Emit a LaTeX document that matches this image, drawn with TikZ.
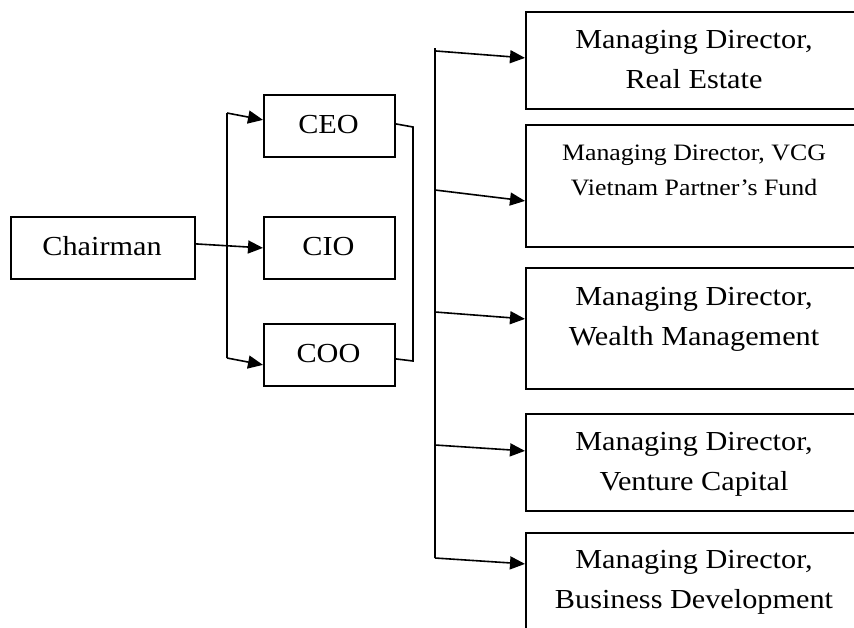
\documentclass[tikz,border=0pt]{standalone}
\usepackage{fontspec}
\setmainfont{Liberation Serif}[FakeStretch=1.1]
\usetikzlibrary{arrows.meta}
\begin{document}
\begin{tikzpicture}[x=1pt,y=-1pt,
  box/.style={draw, line width=1.8pt, inner sep=0pt, anchor=north west},
  lbl/.style={anchor=base, align=center, inner sep=0pt, font=\fontsize{27.5}{40}\selectfont},
  smalllbl/.style={lbl, font=\fontsize{23.5}{35}\selectfont},
  conn/.style={line width=1.6pt},
  arr/.style={conn, -{Triangle[length=15pt,width=13pt]}}]
\clip (0,0) rectangle (854,627);
\fill[white] (0,0) rectangle (854,627);
% boxes
\node[box, minimum width=184pt, minimum height=62pt] (ch) at (10,216) {};
\node[box, minimum width=131pt, minimum height=62pt] (ceo) at (263,94) {};
\node[box, minimum width=131pt, minimum height=62pt] (cio) at (263,216) {};
\node[box, minimum width=131pt, minimum height=62pt] (coo) at (263,323) {};
\node[box, minimum width=339pt, minimum height=97pt] (b1) at (525,11) {};
\node[box, minimum width=339pt, minimum height=122pt] (b2) at (525,124) {};
\node[box, minimum width=339pt, minimum height=121pt] (b3) at (525,267) {};
\node[box, minimum width=339pt, minimum height=97pt] (b4) at (525,413) {};
\node[box, minimum width=339pt, minimum height=110pt] (b5) at (525,532) {};
% labels (anchor base = baseline of the last line)
\node[lbl] (tch) at (102,255) {Chairman};
\node[lbl] (tceo) at (328.5,133) {CEO};
\node[lbl] (tcio) at (328.5,255) {CIO};
\node[lbl] (tcoo) at (328.5,362) {COO};
\node[lbl] (t1) at (694,88) {Managing Director,\\Real Estate};
\node[smalllbl] (t2) at (694,195) {Managing Director, VCG\\Vietnam Partner’s Fund};
\node[lbl] (t3) at (694,345) {Managing Director,\\Wealth Management};
\node[lbl] (t4) at (694,490) {Managing Director,\\Venture Capital};
\node[lbl] (t5) at (694,608) {Managing Director,\\Business Development};
% left bracket
\coordinate (lt) at (227,113);
\coordinate (lb) at (227,358);
\draw[conn] (lt) -- (lb);
\draw[arr] (lt) -- ([yshift=6pt]ceo.west);
\draw[arr] (lb) -- ([yshift=-10pt]coo.west);
\draw[arr] ([yshift=4pt]ch.east) -- (cio.west);
% right bracket
\coordinate (rt) at (413,127);
\coordinate (rb) at (413,361);
\draw[conn] ([yshift=2pt]ceo.east) -- (rt) -- (rb) -- ([yshift=-4pt]coo.east);
% main vertical
\coordinate (v0) at (435,48);
\coordinate (v1) at (436,51);
\coordinate (v2) at (435,190);
\coordinate (v3) at (435,312);
\coordinate (v4) at (435,445);
\coordinate (v5) at (435,558);
\draw[conn] (v0) -- (v5);
\draw[arr] (v1) -- ([yshift=2.5pt]b1.west);
\draw[arr] (v2) -- ([yshift=-15pt]b2.west);
\draw[arr] (v3) -- ([yshift=9.5pt]b3.west);
\draw[arr] (v4) -- ([yshift=11.5pt]b4.west);
\draw[arr] (v5) -- ([yshift=24pt]b5.west);
\end{tikzpicture}
\end{document}
